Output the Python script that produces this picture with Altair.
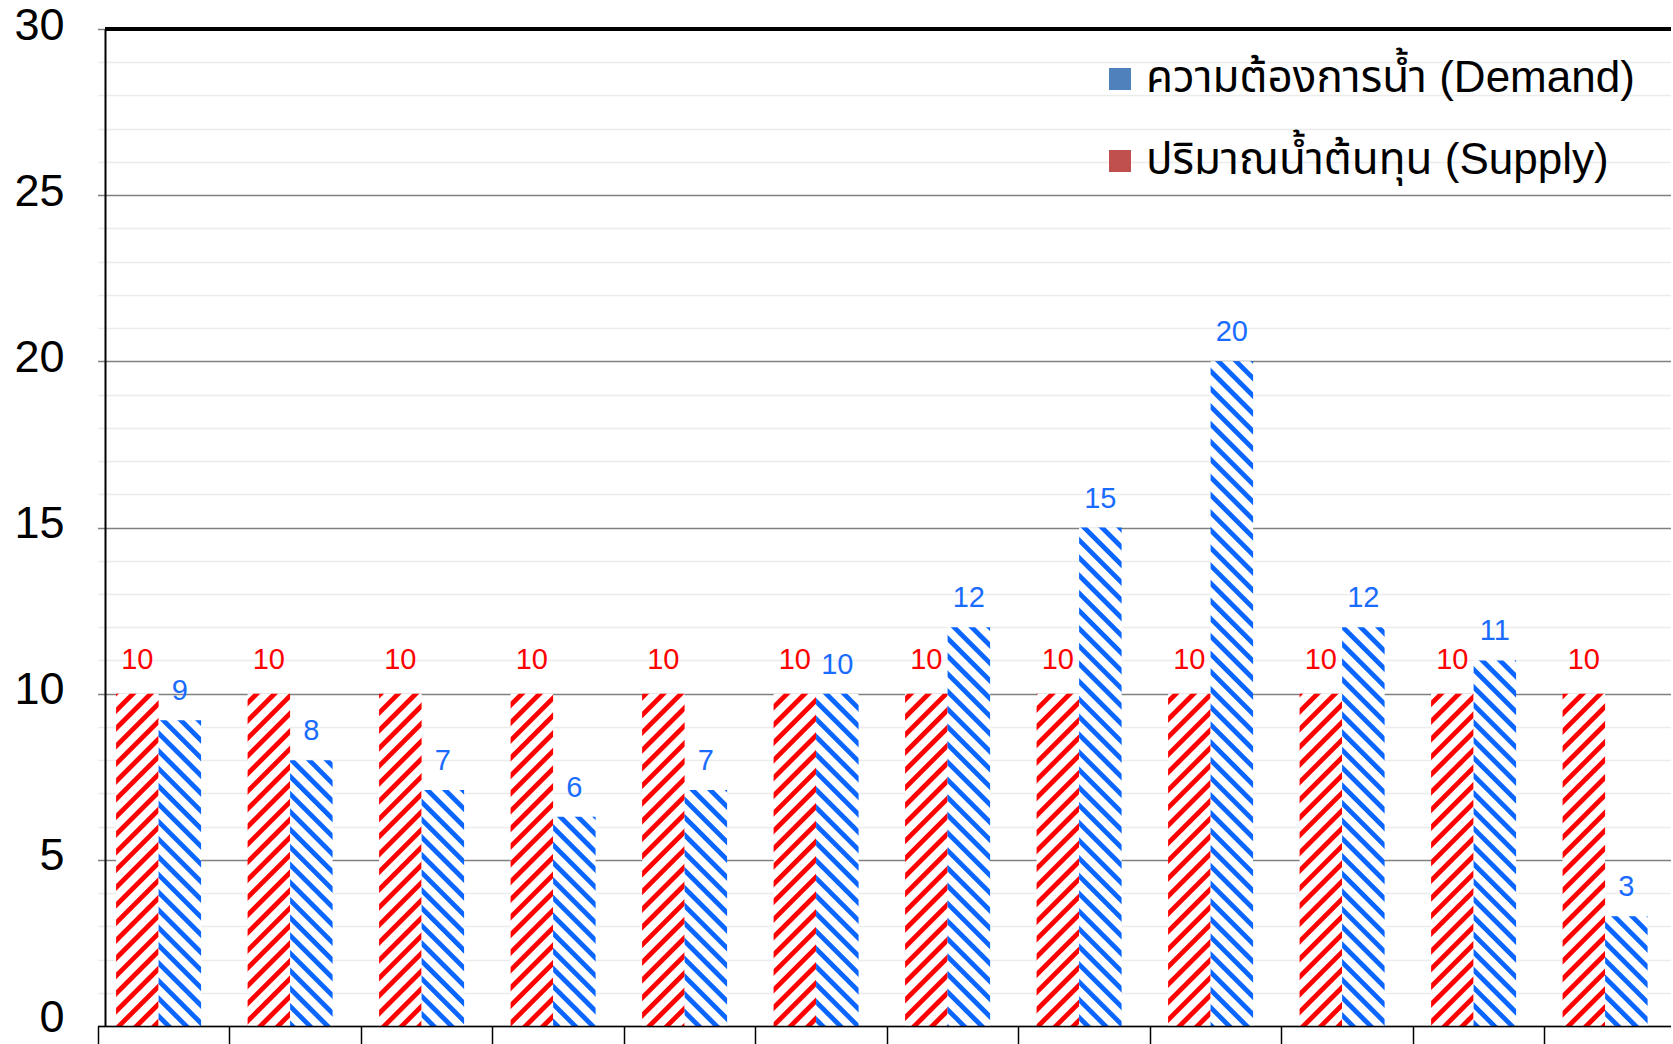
import altair as alt
import pandas as pd

# ---------------- data ----------------
months = ["ม.ค.", "ก.พ.", "มี.ค.", "เม.ย.", "พ.ค.", "มิ.ย.",
          "ก.ค.", "ส.ค.", "ก.ย.", "ต.ค.", "พ.ย.", "ธ.ค."]
supply = [10, 10, 10, 10, 10, 10, 10, 10, 10, 10, 10, 10]
demand = [9.2, 8, 7.1, 6.3, 7.1, 10, 12, 15, 20, 12, 11, 3.3]

S_NAME = "ปริมาณน้ำต้นทุน (Supply)"
D_NAME = "ความต้องการน้ำ (Demand)"
y_ticks = list(range(0, 31))

rows = []
for m, s, d in zip(months, supply, demand):
    rows.append({"month": m, "series": S_NAME, "value": s})
    rows.append({"month": m, "series": D_NAME, "value": d})
df = pd.DataFrame(rows)

# ---------------- hatch patterns (SVG defs injected in page) ----------------
DEFS = (
    '<svg width="0" height="0" style="position:absolute;width:0;height:0" aria-hidden="true"><defs>'
    '<pattern id="hatchRed" patternUnits="userSpaceOnUse" width="12.5" height="12.5" patternTransform="rotate(45)">'
    '<rect width="12.5" height="12.5" fill="#ffffff"/><rect width="4.8" height="12.5" fill="#ff0000"/></pattern>'
    '<pattern id="hatchBlue" patternUnits="userSpaceOnUse" width="12.5" height="12.5" patternTransform="rotate(-45)">'
    '<rect width="12.5" height="12.5" fill="#ffffff"/><rect width="4.8" height="12.5" fill="#0a66ff"/></pattern>'
    '</defs></svg>'
)

try:
    from altair.utils.html import TEMPLATES as _TPL
    _base_tpl = _TPL["standard"]

    class HatchTemplate:
        def render(self, **kw):
            return _base_tpl.render(**kw).replace("<body>", "<body>" + DEFS, 1)

    save_kwargs = {"template": HatchTemplate()}
    red_fill, blue_fill = "url(#hatchRed) #ff0000", "url(#hatchBlue) #0a66ff"
except Exception:
    save_kwargs = {}
    red_fill, blue_fill = "#ff0000", "#0a66ff"

FONT = "Liberation Sans, Arial, Noto Sans Thai, Loma, sans-serif"

# ---------------- scales / axes ----------------
xscale = alt.Scale(domain=months, range=[-7.5, 1570.5], paddingInner=0, paddingOuter=0)
xaxis = alt.Axis(labels=False, title=None, tickBand="extent", tickSize=24,
                 tickColor="black", tickWidth=1.5, domainColor="black",
                 domainWidth=1.5, grid=False, zindex=1)
xoff_scale = alt.Scale(domain=[S_NAME, D_NAME], range=[18.6, 103.6],
                       paddingInner=0, paddingOuter=0)

yscale = alt.Scale(domain=[0, 30], nice=False, zero=True)
yaxis = alt.Axis(values=y_ticks, labelExpr="datum.value % 5 === 0 ? datum.label : ''",
                 title=None, ticks=False, labelFontSize=45, labelColor="black",
                 labelFont=FONT, labelPadding=41, labelOverlap=False,
                 labelOffset={"condition": {"test": "datum.value === 0", "value": -9},
                              "value": -4},
                 domainColor="black", domainWidth=2,
                 gridColor={"condition": {"test": "datum.value % 5 === 0", "value": "#808080"},
                            "value": "#ececec"},
                 gridWidth=1.3, gridOpacity=1)

X = alt.X("month:N", scale=xscale, axis=xaxis, sort=months)
XO = alt.XOffset("series:N", scale=xoff_scale)

base = alt.Chart(df)

bars = base.mark_bar().encode(
    x=X, xOffset=XO,
    y=alt.Y("value:Q", scale=yscale, axis=yaxis),
    fill=alt.Fill("series:N", scale=alt.Scale(domain=[S_NAME, D_NAME], range=[red_fill, blue_fill]),
                  legend=None),
)

legend_layer = base.mark_bar().encode(
    x=X, xOffset=XO,
    y=alt.YDatum(0, scale=yscale, axis=yaxis),
    color=alt.Color("series:N",
                    scale=alt.Scale(domain=[D_NAME, S_NAME], range=["#4f81bd", "#c0504d"]),
                    legend=alt.Legend(orient="none", legendX=993, legendY=28, title=None,
                                      labelFontSize=44, labelFont=FONT, labelColor="black",
                                      symbolSize=484, symbolType="square", symbolStrokeWidth=0,
                                      rowPadding=38, labelOffset=4, labelLimit=0, padding=0)),
)

text_s = base.transform_filter(alt.datum.series == S_NAME).mark_text(
    fontSize=29, font=FONT, dy=-25, baseline="alphabetic", align="center", color="#ff0000"
).encode(x=X, xOffset=XO, y=alt.Y("value:Q", scale=yscale, axis=yaxis),
         text=alt.Text("value:Q", format=".0f"))

text_d = base.transform_filter(alt.datum.series == D_NAME).mark_text(
    fontSize=29, font=FONT, dy=-20, baseline="alphabetic", align="center", color="#1a6cff"
).encode(x=X, xOffset=XO, y=alt.Y("value:Q", scale=yscale, axis=yaxis),
         text=alt.Text("value:Q", format=".0f"))

top_border = base.mark_rule(color="black", strokeWidth=2.5).encode(
    y=alt.YDatum(30, scale=yscale, axis=yaxis)
)

chart = alt.layer(bars, legend_layer, text_s, text_d, top_border).properties(
    width=1566, height=997,
    autosize=alt.AutoSizeParams(type="none"),
    padding={"left": 105, "top": 29, "right": 0, "bottom": 18},
).configure(font=FONT).configure_view(stroke=None)

chart.save("out.html", embed_options={"renderer": "svg", "actions": False}, **save_kwargs)
